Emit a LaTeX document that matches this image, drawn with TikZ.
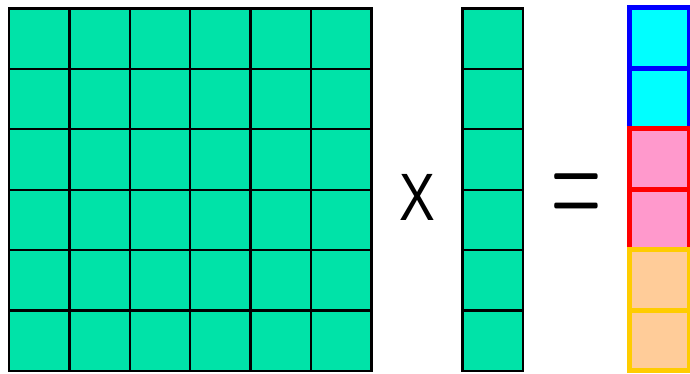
\documentclass[tikz,border=0pt]{standalone}
\usepackage{fontspec}
\setsansfont{Liberation Sans}
\usepackage{xcolor}
\usetikzlibrary{positioning}

\definecolor{matgreen}{RGB}{0,227,168}
\definecolor{rescyan}{RGB}{0,255,255}
\definecolor{respink}{RGB}{255,153,204}
\definecolor{respeach}{RGB}{255,204,153}
\definecolor{resgold}{RGB}{255,204,0}

\begin{document}
\begin{tikzpicture}[
  x=1pt, y=-1pt,
  cell/.style={
    rectangle, draw=black, fill=matgreen,
    line width=2.4pt, minimum size=60.4pt,
    inner sep=0pt, outer sep=0pt},
  rescell/.style={
    rectangle, line width=5pt, minimum size=60.4pt,
    inner sep=0pt, outer sep=0pt},
  op/.style={font=\sffamily\fontsize{67}{67}\selectfont, inner sep=0pt},
  eq/.style={font=\rmfamily\fontsize{165}{165}\selectfont, inner sep=0pt}
]
\useasboundingbox (0,0) rectangle (690,374);

%% Matrix 6x6
\foreach \r in {1,...,6}
  \foreach \c in {1,...,6}
    \node[cell] (m-\r-\c) at ({9+60.4*(\c-0.5)}, {8.5+60.4*(\r-0.5)}) {};

%% Vector
\foreach \r in {1,...,6}
  \node[cell] (v-\r) at (492.7, {8.5+60.4*(\r-0.5)}) {};

%% Result vector
\foreach \r/\fc/\dc in {1/rescyan/blue, 2/rescyan/blue,
                        3/respink/red, 4/respink/red,
                        5/respeach/resgold, 6/respeach/resgold}
  \node[rescell, draw=\dc, fill=\fc] (res-\r) at (659.7, {8+60.4*(\r-0.5)}) {};

%% Operators
\node[op] (times)  at (417.5, 197) {\scalebox{0.8}[1]{X}};
\node[eq] (equals) at (576, 203)   {\scalebox{0.42}[1]{=}};

\end{tikzpicture}
\end{document}
